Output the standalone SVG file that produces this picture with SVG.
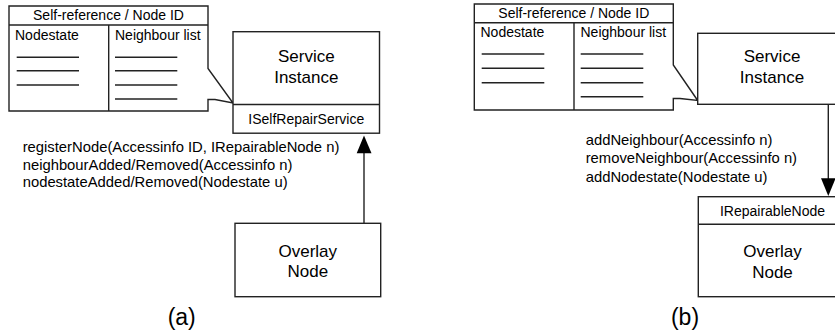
<svg xmlns="http://www.w3.org/2000/svg" width="835" height="336" viewBox="0 0 835 336">
<style>
.ln{fill:none;stroke:#222;stroke-width:1.4}
.bx{fill:#fff;stroke:#222;stroke-width:1.4}
text{font-family:"Liberation Sans",Arial,sans-serif;fill:#000}
.t14{font-size:14px}
.t15{font-size:14.8px}
.t17{font-size:17px}
.c{text-anchor:middle}
.cap{font-size:23px}
</style>
<defs>
<marker id="ah" markerWidth="15" markerHeight="17" refX="7.5" refY="0" orient="auto-start-reverse" markerUnits="userSpaceOnUse" viewBox="0 0 15 17">
</marker>
</defs>

<!-- (a) -->
<g id="callout-a">
<path class="bx" d="M9,6 H208 V68.5 L233,103 L215,99.5 L208,99.5 V111 H9 Z"/>
<line class="ln" x1="9" y1="25" x2="208" y2="25"/>
<line class="ln" x1="108.7" y1="25" x2="108.7" y2="111"/>
<text class="t14 c" x="108.5" y="20">Self-reference / Node ID</text>
<text class="t14" x="15" y="39.5">Nodestate</text>
<text class="t14" x="115" y="39.5">Neighbour list</text>
<g class="ln">
<line x1="16.7" y1="57.3" x2="79" y2="57.3"/>
<line x1="16.7" y1="70.7" x2="79" y2="70.7"/>
<line x1="16.7" y1="85" x2="79" y2="85"/>
<line x1="115" y1="57.3" x2="177.3" y2="57.3"/>
<line x1="115" y1="70.7" x2="177.3" y2="70.7"/>
<line x1="115" y1="85" x2="177.3" y2="85"/>
<line x1="115" y1="99" x2="177.3" y2="99"/>
</g>
</g>

<g id="service-a">
<rect class="bx" x="233" y="31.7" width="146.5" height="101.5"/>
<line class="ln" x1="233" y1="104.5" x2="379.5" y2="104.5"/>
<text class="t17 c" x="306.3" y="62">Service</text>
<text class="t17 c" x="306.3" y="83">Instance</text>
<text class="t14 c" x="306.3" y="124">ISelfRepairService</text>
</g>

<g id="overlay-a">
<rect class="bx" x="235" y="223.3" width="145.7" height="73.4"/>
<text class="t17 c" x="307.8" y="256.5">Overlay</text>
<text class="t17 c" x="307.8" y="277">Node</text>
</g>

<g id="methods-a" class="t15">
<text x="22.7" y="152">registerNode(Accessinfo ID, IRepairableNode n)</text>
<text x="22.7" y="169.5">neighbourAdded/Removed(Accessinfo n)</text>
<text x="22.7" y="187">nodestateAdded/Removed(Nodestate u)</text>
</g>

<text id="label-a" class="cap c" x="181.7" y="325">(a)</text>

<!-- (b) -->
<g id="callout-b">
<path class="bx" d="M474.3,4 H673.3 V65 L697.7,100.5 L680,98.5 L673.3,98.5 V110 H474.3 Z"/>
<line class="ln" x1="474.3" y1="22.7" x2="673.3" y2="22.7"/>
<line class="ln" x1="574" y1="22.7" x2="574" y2="110"/>
<text class="t14 c" x="573.8" y="17.5">Self-reference / Node ID</text>
<text class="t14" x="480.5" y="37">Nodestate</text>
<text class="t14" x="580.5" y="37">Neighbour list</text>
<g class="ln">
<line x1="481.7" y1="54" x2="544.3" y2="54"/>
<line x1="481.7" y1="68.3" x2="544.3" y2="68.3"/>
<line x1="481.7" y1="82.7" x2="544.3" y2="82.7"/>
<line x1="580.7" y1="54" x2="643.3" y2="54"/>
<line x1="580.7" y1="68.3" x2="643.3" y2="68.3"/>
<line x1="580.7" y1="82.7" x2="643.3" y2="82.7"/>
<line x1="580.7" y1="96.7" x2="643.3" y2="96.7"/>
</g>
</g>

<g id="service-b">
<rect class="bx" x="697.7" y="33.3" width="148" height="71"/>
<text class="t17 c" x="772" y="62">Service</text>
<text class="t17 c" x="772" y="83">Instance</text>
</g>

<g id="overlay-b">
<rect class="bx" x="698.3" y="196.7" width="148" height="100"/>
<line class="ln" x1="698.3" y1="224.3" x2="846.3" y2="224.3"/>
<text class="t14 c" x="772.5" y="215.5">IRepairableNode</text>
<text class="t17 c" x="772.5" y="256.5">Overlay</text>
<text class="t17 c" x="772.5" y="277.5">Node</text>
</g>

<g id="methods-b" class="t15">
<text x="585.7" y="145">addNeighbour(Accessinfo n)</text>
<text x="585.7" y="163">removeNeighbour(Accessinfo n)</text>
<text x="585.7" y="181.5">addNodestate(Nodestate u)</text>
</g>

<text id="label-b" class="cap c" x="685" y="325">(b)</text>

<g id="connectors">
<line class="ln" x1="364" y1="223.3" x2="364" y2="150"/>
<polygon fill="#000" points="364,135.5 356.7,153.3 371.5,153.3"/>
<line class="ln" x1="828.3" y1="104.3" x2="828.3" y2="181"/>
<polygon fill="#000" points="828.3,196 821,178.3 835.6,178.3"/>
</g>
</svg>
